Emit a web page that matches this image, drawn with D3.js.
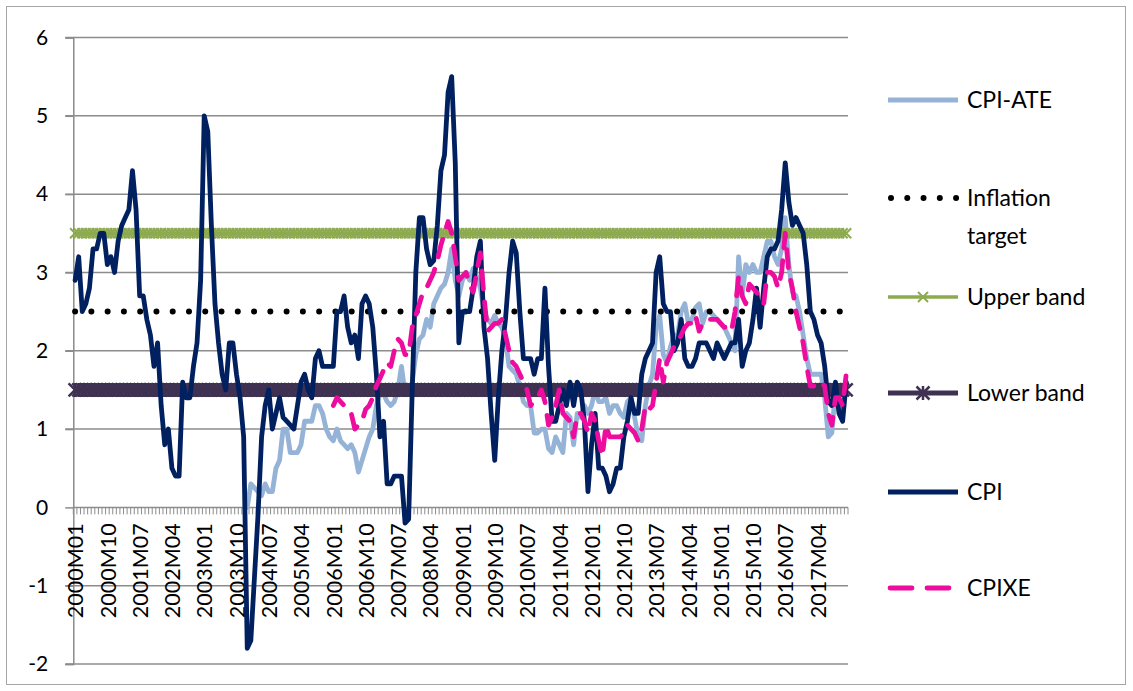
<!DOCTYPE html>
<html>
<head>
<meta charset="utf-8">
<script src="https://cdn.jsdelivr.net/npm/d3@7"></script>
<style>
  html, body { margin: 0; padding: 0; background: #fff; }
  svg { display: block; font-family: Lato, "Liberation Sans", sans-serif; }
</style>
</head>
<body>
<svg id="chart" width="1133" height="691"></svg>
<script>
// Monthly categories 2000M01 .. 2017M12
const firstYear = 2000, lastYear = 2017;
const categories = [];
for (let yr = firstYear; yr <= lastYear; yr++) {
  for (let m = 1; m <= 12; m++) categories.push(`${yr}M${String(m).padStart(2, "0")}`);
}

const tickLabels = ["2000M01","2000M10","2001M07","2002M04","2003M01","2003M10","2004M07","2005M04",
  "2006M01","2006M10","2007M07","2008M04","2009M01","2009M10","2010M07","2011M04",
  "2012M01","2012M10","2013M07","2014M04","2015M01","2015M10","2016M07","2017M04"];
const yTicks = [-2, -1, 0, 1, 2, 3, 4, 5, 6];

// Headline CPI, y/y %, from 2000M01
const cpi = [
  2.9,3.2,2.5,2.6,2.8,3.3,3.3,3.5,3.5,3.1,3.2,3.0,
  3.4,3.6,3.7,3.8,4.3,3.8,2.7,2.7,2.4,2.2,1.8,2.1,
  1.3,0.8,1.0,0.5,0.4,0.4,1.6,1.4,1.4,1.8,2.1,2.9,
  5.0,4.8,3.6,2.6,2.1,1.7,1.5,2.1,2.1,1.7,1.4,0.9,
  -1.8,-1.7,-0.9,-0.1,0.9,1.3,1.5,1.0,1.2,1.4,1.15,1.1,
  1.05,1.0,1.3,1.6,1.7,1.5,1.4,1.9,2.0,1.8,1.8,1.8,
  1.8,2.5,2.5,2.7,2.3,2.1,2.2,1.9,2.6,2.7,2.6,2.3,
  1.7,0.9,1.1,0.3,0.3,0.4,0.4,0.4,-0.2,-0.15,1.5,3.0,
  3.7,3.7,3.3,3.1,3.15,3.6,4.3,4.5,5.3,5.5,4.4,2.1,
  2.5,2.5,2.5,2.8,3.2,3.4,2.3,1.9,1.2,0.6,1.4,2.0,
  2.4,3.0,3.4,3.25,2.5,1.9,1.9,1.9,1.7,1.9,1.9,2.8,
  1.8,1.1,1.1,1.3,1.5,1.3,1.6,1.3,1.6,1.5,1.1,0.2,
  0.8,1.2,0.5,0.5,0.4,0.2,0.3,0.5,0.5,0.9,1.1,1.4,
  1.2,1.2,1.7,1.9,2.0,2.1,3.0,3.2,2.6,2.5,2.5,2.0,
  2.1,2.4,1.9,1.8,1.8,1.9,2.1,2.1,2.1,2.0,1.9,2.1,
  2.0,1.9,2.0,2.1,2.1,2.4,1.8,2.0,2.1,2.4,2.8,2.3,
  2.8,3.2,3.3,3.3,3.4,3.8,4.4,3.9,3.6,3.7,3.6,3.5,
  3.1,2.5,2.4,2.2,2.1,1.8,1.35,1.3,1.6,1.2,1.1,1.6
];

// CPI-ATE, from 2004M01
const cpiAteStart = "2004M01";
const cpiAte = [
  0.0,0.3,0.25,0.2,0.15,0.3,0.2,0.2,0.5,0.6,1.0,1.0,
  0.7,0.7,0.7,0.8,1.1,1.1,1.1,1.3,1.3,1.2,1.0,0.9,
  0.85,1.0,0.85,0.8,0.75,0.8,0.7,0.45,0.6,0.75,0.9,1.0,
  1.3,1.45,1.45,1.35,1.3,1.35,1.5,1.8,1.45,1.45,1.6,1.95,
  2.15,2.2,2.4,2.3,2.6,2.7,2.8,2.85,3.0,3.3,2.9,2.7,
  2.9,3.0,2.9,3.05,2.95,2.8,2.5,2.4,2.35,2.45,2.35,2.3,
  2.15,1.8,1.75,1.7,1.55,1.35,1.3,1.3,0.95,0.95,1.0,1.0,
  0.75,0.7,0.9,0.8,0.7,1.2,1.15,0.8,1.2,1.15,1.3,1.2,
  1.3,1.5,1.35,1.35,1.4,1.2,1.3,1.3,1.2,1.15,1.35,1.4,
  1.15,0.9,0.85,1.3,1.55,1.7,2.3,2.45,1.95,1.85,2.05,2.2,
  2.2,2.5,2.6,2.35,2.4,2.55,2.6,2.35,2.5,2.5,2.45,2.4,
  2.35,2.3,2.2,2.1,2.0,3.2,2.7,3.1,3.0,3.1,3.0,3.0,
  3.2,3.4,3.4,3.2,3.1,3.3,3.7,3.1,2.75,2.7,2.5,2.2,
  1.9,1.7,1.7,1.7,1.7,1.4,0.9,0.95,1.5,1.35,1.2,1.6
];

// CPIXE, from 2006M01
const cpixeStart = "2006M01";
const cpixe = [
  1.3,1.4,1.35,1.3,1.25,1.2,1.0,1.05,1.1,1.25,1.3,1.4,
  1.55,1.65,1.75,1.85,1.8,2.0,2.15,2.1,1.95,1.95,2.3,2.45,
  2.6,2.75,2.8,2.9,3.0,3.15,3.35,3.5,3.65,3.5,3.2,2.9,
  2.95,3.0,2.85,2.75,3.0,3.25,2.7,2.25,2.3,2.35,2.35,2.4,
  2.2,2.0,1.85,1.8,1.7,1.6,1.5,1.3,1.35,1.4,1.5,1.35,
  1.05,1.15,1.3,1.5,1.2,1.15,1.1,0.9,1.2,1.2,1.1,0.95,
  1.2,1.1,0.85,0.65,1.05,0.9,0.9,0.9,0.9,0.95,1.05,1.0,
  0.95,0.85,1.0,1.3,1.25,1.3,1.6,1.9,1.6,1.85,1.95,2.05,
  2.1,2.2,2.3,2.35,2.35,2.45,2.25,2.35,2.4,2.4,2.4,2.4,
  2.35,2.3,2.3,2.25,2.5,2.95,2.7,2.6,2.85,2.8,2.75,2.65,
  2.6,3.0,3.0,2.95,2.8,3.0,3.5,3.0,2.8,2.5,2.3,2.1,
  1.8,1.55,1.55,1.6,1.6,1.55,1.2,1.05,1.4,1.4,1.3,1.7
];

// Policy reference levels
const inflationTarget = 2.5;
const upperBand = 3.5;
const lowerBand = 1.5;

const colors = {
  ate: "#95B3D7", target: "#000000", upper: "#8DAA50",
  lower: "#3F3151", cpi: "#002060", cpixe: "#EE0C9E", grid: "#8C8C8C"
};

const svg = d3.select("#chart");
const plot = { left: 73.3, right: 848, top: 37.5, bottom: 664 };

const x = d3.scaleBand().domain(categories).range([plot.left, plot.right]).padding(0);
const cx = c => x(c) + x.bandwidth() / 2;
const y = d3.scaleLinear().domain([-2, 6]).range([plot.bottom, plot.top]);

// outer chart border
svg.append("rect").attr("x", 6.5).attr("y", 6.5).attr("width", 1119).attr("height", 678)
  .attr("fill", "none").attr("stroke", "#A6A6A6").attr("stroke-width", 1);

// horizontal gridlines
svg.append("g").selectAll("line").data(yTicks.filter(v => v !== 0)).join("line")
  .attr("x1", plot.left - 8).attr("x2", plot.right)
  .attr("y1", d => y(d)).attr("y2", d => y(d))
  .attr("stroke", colors.grid).attr("stroke-width", 1.5);

// y axis
const yAxis = svg.append("g").attr("transform", `translate(${plot.left},0)`)
  .call(d3.axisLeft(y).tickValues(yTicks).tickSize(8).tickFormat(d3.format("d")));
yAxis.select(".domain").attr("stroke", colors.grid).attr("stroke-width", 1.5);
yAxis.selectAll(".tick line").attr("stroke", colors.grid).attr("stroke-width", 1.5);
yAxis.selectAll(".tick text").attr("x", -25).attr("font-size", 21).attr("fill", "#000")
  .attr("font-family", "Lato, sans-serif").text(d => d < 0 ? "-" + Math.abs(d) : d);

// x axis at zero: tick at every category boundary
const xAxisG = svg.append("g");
xAxisG.append("line").attr("x1", plot.left).attr("x2", plot.right)
  .attr("y1", y(0)).attr("y2", y(0)).attr("stroke", colors.grid).attr("stroke-width", 1.5);
xAxisG.selectAll("line.tk").data(categories.concat(["end"])).join("line").attr("class", "tk")
  .attr("x1", (d, i) => i < categories.length ? x(d) : plot.right)
  .attr("x2", (d, i) => i < categories.length ? x(d) : plot.right)
  .attr("y1", y(0)).attr("y2", y(0) + 7)
  .attr("stroke", colors.grid).attr("stroke-width", 1);
xAxisG.selectAll("text").data(tickLabels).join("text")
  .attr("transform", d => `translate(${cx(d) + 0.7},${y(0) + 16}) rotate(-90)`)
  .attr("text-anchor", "end").attr("dy", "0.35em")
  .attr("font-size", 21.5).attr("fill", "#000").text(d => d);

// helpers
const seriesFrom = (start, vals) => {
  const i0 = categories.indexOf(start);
  return vals.map((v, i) => ({ c: categories[i0 + i], v }));
};
const line = d3.line().x(d => cx(d.c)).y(d => y(d.v)).curve(d3.curveLinear);
const flat = v => categories.map(c => ({ c, v }));

const g = svg.append("g");

// CPI-ATE
g.append("path").datum(seriesFrom(cpiAteStart, cpiAte)).attr("d", line)
  .attr("fill", "none").attr("stroke", colors.ate).attr("stroke-width", 4.8)
  .attr("stroke-linejoin", "round").attr("stroke-linecap", "round");

// Inflation target (round dots)
g.append("path").datum(flat(inflationTarget)).attr("d", line)
  .attr("fill", "none").attr("stroke", colors.target).attr("stroke-width", 6)
  .attr("stroke-linecap", "round").attr("stroke-dasharray", "0 16.27");

// Upper band with x markers
g.append("path").datum(flat(upperBand)).attr("d", line)
  .attr("fill", "none").attr("stroke", colors.upper).attr("stroke-width", 3.5);
g.append("g").selectAll("path").data(flat(upperBand)).join("path")
  .attr("transform", d => `translate(${cx(d.c)},${y(d.v)})`)
  .attr("d", "M-5,-5L5,5M-5,5L5,-5")
  .attr("stroke", colors.upper).attr("stroke-width", 2).attr("fill", "none");

// Lower band with star markers
g.append("path").datum(flat(lowerBand)).attr("d", line)
  .attr("fill", "none").attr("stroke", colors.lower).attr("stroke-width", 5);
g.append("g").selectAll("path").data(flat(lowerBand)).join("path")
  .attr("transform", d => `translate(${cx(d.c)},${y(d.v)})`)
  .attr("d", "M-6.5,-6.5L6.5,6.5M-6.5,6.5L6.5,-6.5M0,-7L0,7")
  .attr("stroke", colors.lower).attr("stroke-width", 2.5).attr("fill", "none");

// CPI
g.append("path").datum(seriesFrom(categories[0], cpi)).attr("d", line)
  .attr("fill", "none").attr("stroke", colors.cpi).attr("stroke-width", 4.8)
  .attr("stroke-linejoin", "round").attr("stroke-linecap", "round");

// CPIXE
g.append("path").datum(seriesFrom(cpixeStart, cpixe)).attr("d", line)
  .attr("fill", "none").attr("stroke", colors.cpixe).attr("stroke-width", 4.8)
  .attr("stroke-linejoin", "round").attr("stroke-linecap", "round")
  .attr("stroke-dasharray", "18 13");

// Legend
const lg = svg.append("g");
const lx0 = 888, lx1 = 958, tx = 967;
const legendItems = [
  { key: "ate", lines: ["CPI-ATE"], y: 100 },
  { key: "target", lines: ["Inflation", "target"], y: 198 },
  { key: "upper", lines: ["Upper band"], y: 297 },
  { key: "lower", lines: ["Lower band"], y: 393 },
  { key: "cpi", lines: ["CPI"], y: 492 },
  { key: "cpixe", lines: ["CPIXE"], y: 588 }
];
legendItems.forEach(it => {
  const ln = lg.append("line").attr("x1", lx0).attr("x2", lx1).attr("y1", it.y).attr("y2", it.y)
    .attr("stroke", colors[it.key]).attr("fill", "none");
  if (it.key === "ate" || it.key === "cpi") ln.attr("stroke-width", 4.8);
  if (it.key === "target") ln.attr("x1", lx0 + 3).attr("stroke-width", 6).attr("stroke-linecap", "round").attr("stroke-dasharray", "0 16.27");
  if (it.key === "cpixe") ln.attr("x1", lx0 + 2).attr("stroke-width", 4.8).attr("stroke-linecap", "round").attr("stroke-dasharray", "22 15");
  if (it.key === "upper") {
    ln.attr("stroke-width", 3.5);
    lg.append("path").attr("transform", `translate(${(lx0 + lx1) / 2},${it.y})`)
      .attr("d", "M-5,-5L5,5M-5,5L5,-5").attr("stroke", colors.upper).attr("stroke-width", 2);
  }
  if (it.key === "lower") {
    ln.attr("stroke-width", 5);
    lg.append("path").attr("transform", `translate(${(lx0 + lx1) / 2},${it.y})`)
      .attr("d", "M-6.5,-6.5L6.5,6.5M-6.5,6.5L6.5,-6.5M0,-7L0,7").attr("stroke", colors.lower).attr("stroke-width", 2.5);
  }
  it.lines.forEach((t, k) => {
    lg.append("text").attr("x", tx).attr("y", it.y + k * 38).attr("dy", "0.35em")
      .attr("font-size", 23).attr("fill", "#000").text(t);
  });
});
</script>
</body>
</html>
